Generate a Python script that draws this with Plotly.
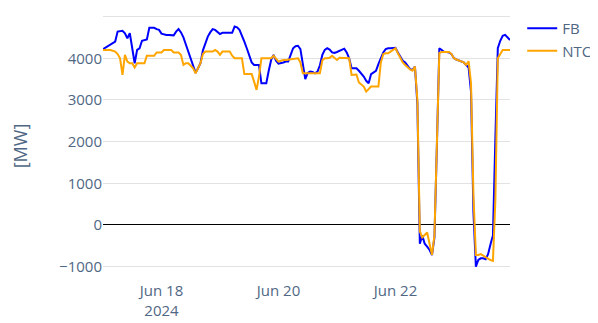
import pandas as pd
import plotly.graph_objects as go

# hourly timestamps, 17-23 Jun 2024
timestamps = pd.date_range("2024-06-17 00:00", periods=168, freq="h")

fb_mw = [
    4220, 4260, 4290, 4320, 4360, 4400, 4640, 4650, 4660, 4600, 4480, 4600,
    4280, 3880, 4200, 4240, 4420, 4440, 4450, 4730, 4730, 4730, 4700, 4680,
    4590, 4570, 4560, 4560, 4560, 4550, 4640, 4700, 4620, 4500, 4330, 4160,
    4000, 3800, 3650, 3760, 3880, 4190, 4380, 4520, 4620, 4700, 4680, 4630,
    4580, 4610, 4610, 4600, 4600, 4610, 4760, 4740, 4680, 4560, 4400, 4240,
    4060, 3900, 3840, 3840, 3840, 3400, 3400, 3400, 3700, 3960, 4080, 3940,
    3870, 3880, 3900, 3920, 3920, 4080, 4240, 4290, 4300, 4220, 3900, 3500,
    3650, 3680, 3670, 3640, 3680, 3830, 4080, 4200, 4240, 4210, 4140, 4130,
    4150, 4180, 4200, 4230, 4140, 4000, 3760, 3760, 3760, 3700, 3640, 3560,
    3460, 3400, 3620, 3660, 3700, 3860, 4000, 4140, 4220, 4240, 4240, 4250,
    4250, 4140, 4040, 3940, 3900, 3820, 3740, 3720, 3800, 2900, -450, -250,
    -450, -520, -600, -720, -300, 1900, 4240, 4200, 4150, 4150, 4140, 4100,
    4000, 3970, 3950, 3930, 3900, 3840, 3780, 3200, 300, -1000, -840, -800,
    -800, -820, -700, -460, -250, 2100, 4240, 4420, 4540, 4560, 4500, 4440,
]

ntc_mw = [
    4200, 4200, 4200, 4200, 4180, 4160, 4100, 4000, 3600, 4080, 3920, 3880,
    3880, 3780, 3880, 3880, 3880, 3880, 4060, 4060, 4060, 4060, 4140, 4140,
    4140, 4200, 4200, 4200, 4200, 4140, 4140, 4140, 4080, 3840, 3880, 3880,
    3820, 3760, 3640, 3760, 3880, 4100, 4160, 4160, 4160, 4160, 4200, 4160,
    4080, 4160, 4160, 4160, 4160, 4060, 4000, 4000, 4000, 4000, 3620, 3620,
    3620, 3620, 3440, 3240, 3560, 4000, 4000, 4000, 4000, 4000, 4060, 3980,
    3920, 3940, 3960, 3960, 3970, 3980, 3990, 4000, 4000, 3900, 3640, 3640,
    3640, 3640, 3640, 3640, 3640, 3640, 3950, 4000, 4000, 4010, 4060, 4000,
    3960, 4010, 4010, 4010, 4010, 4000, 3600, 3610, 3610, 3420, 3360, 3320,
    3200, 3260, 3320, 3320, 3320, 3320, 3900, 4100, 4120, 4120, 4160, 4200,
    4240, 4120, 4000, 3900, 3840, 3780, 3730, 3700, 3800, 3000, -150, -300,
    -230, -180, -450, -720, -250, 1900, 4130, 4150, 4150, 4150, 4150, 4100,
    4000, 3970, 3950, 3930, 3900, 3840, 3930, 3400, 700, -720, -720, -700,
    -740, -780, -800, -840, -860, 600, 4000, 4120, 4200, 4200, 4200, 4200,
]

fig = go.Figure()
fig.add_trace(go.Scatter(x=timestamps, y=fb_mw, name="FB", mode="lines",
                         line=dict(color="blue", width=2)))
fig.add_trace(go.Scatter(x=timestamps, y=ntc_mw, name="NTC", mode="lines",
                         line=dict(color="orange", width=2)))

fig.update_layout(
    template="plotly_white",
    width=590,
    height=315,
    margin=dict(l=95, r=88, t=4, b=43, autoexpand=False),
    font=dict(size=15, color="#506784"),
    yaxis_title=dict(text="[MW]", standoff=40),
    showlegend=True,
    legend=dict(x=1.03, y=1.0, tracegroupgap=4),
)
fig.update_xaxes(showgrid=False, zeroline=False, automargin=False)
fig.update_yaxes(
    range=[-1320, 5110],
    gridcolor="#e2e2e2",
    zeroline=True,
    zerolinecolor="black",
    zerolinewidth=1,
    automargin=False,
    tickvals=[-1000, 0, 1000, 2000, 3000, 4000, 5000],
)

fig.write_html("out.html")
